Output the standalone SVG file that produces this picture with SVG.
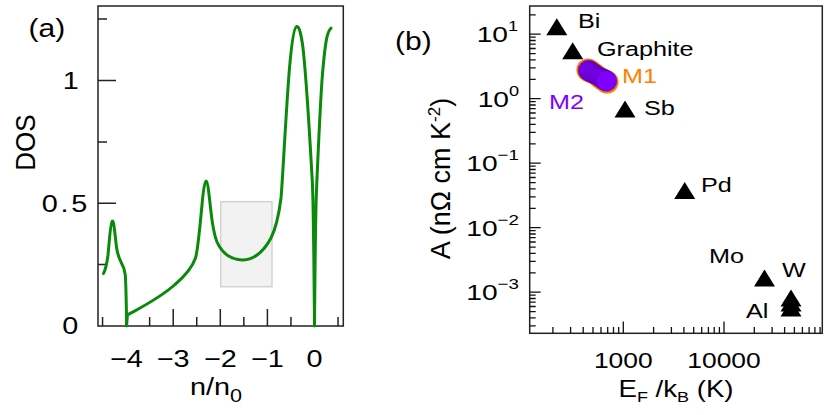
<svg xmlns="http://www.w3.org/2000/svg" xmlns:xlink="http://www.w3.org/1999/xlink" width="830" height="415" viewBox="0 0 830 415">
<style>
.t{font-family:"Liberation Sans",Arial,Helvetica,sans-serif;fill:#000}
.frame{fill:none;stroke:#222;stroke-width:1.5}
.tk{stroke:#222;stroke-width:1.5;fill:none}
.tkb{stroke:#111;stroke-width:1.3;fill:none}
.dos{fill:none;stroke:#0a8a0a;stroke-width:3;stroke-linejoin:round;stroke-linecap:round}
.tri{fill:#000}
.m1{fill:#ff8000}
.m2{fill:#8000ff;stroke:#4c0096;stroke-width:0.6;stroke-opacity:0.8}
</style>
<defs>
<path id="tri" d="M0,0 L10.5,17 L-10.5,17 Z"/>
</defs>
<rect width="830" height="415" fill="#fff"/>

<!-- Panel (a) -->
<g id="panel-a">
<rect id="highlight" x="220.7" y="201.7" width="51.3" height="85" fill="#f2f2f2" stroke="#d2d2d2" stroke-width="1.5"/>
<rect class="frame" x="98" y="6" width="245.3" height="320"/>
<g id="a-ticks">
<path class="tk" d="M126.1,326V309M173.2,326V309M220.3,326V309M267.4,326V309M314.5,326V309M102.55,326V317M149.65,326V317M196.75,326V317M243.85,326V317M290.95,326V317M338.05,326V317"/>
<path class="tk" d="M98,203.25H116M98,80.5H116M98,264.6H107M98,141.9H107M98,19.1H107"/>
</g>
<path id="dos-curve" class="dos" d="M103.5,273.5 C105,271 106.5,266 108,255 C109.5,240 110.5,222 112.3,221 C114,220 115,236 116.5,247 C117.5,255 119,258 121,262 C123,265.5 124.5,268 125.3,275 C126,285 126.4,310 126.6,326 L127.4,315 C140,308 160,298 175,284.5 C185,276 192,268 195.5,258 C198,250 200,225 202,205 C203,193 204.5,181 206,181 C207.5,181 208.5,190 210,203 C211.5,216 212.5,231 217,242 C222,253 231,259.5 242,260 C254,260 264,251 271,238 C276,228 279,214 281,198 C283,175 286,110 289.5,68 C291.5,45 293.5,28 296.5,26.5 C299,25.5 301,33 303,48 C306,75 310,140 312.5,185 C313.5,215 314.2,290 314.5,326 C314.8,290 315.5,215 316.5,190 C318,155 320,110 322,80 C324,55 326,40 327.5,35 C328.5,31.5 330,29 331,28"/>
<g id="a-labels">
<text class="t" font-size="25" transform="translate(28.5,36.5) scale(1.2,1)">(a)</text>
<text class="t" font-size="24" text-anchor="middle" transform="translate(70.7,89.3) scale(1.2,1)">1</text>
<text class="t" font-size="24" text-anchor="middle" textLength="38" lengthAdjust="spacing" transform="translate(64.5,211.8) scale(1.2,1)">0.5</text>
<text class="t" font-size="24" text-anchor="middle" transform="translate(70.3,334) scale(1.2,1)">0</text>
<text class="t" font-size="24" text-anchor="middle" transform="translate(126.4,366.7) scale(1.2,1)">−4</text>
<text class="t" font-size="24" text-anchor="middle" transform="translate(173.2,366.7) scale(1.2,1)">−3</text>
<text class="t" font-size="24" text-anchor="middle" transform="translate(220.3,366.7) scale(1.2,1)">−2</text>
<text class="t" font-size="24" text-anchor="middle" transform="translate(267.4,366.7) scale(1.2,1)">−1</text>
<text class="t" font-size="24" text-anchor="middle" transform="translate(314.5,366.7) scale(1.2,1)">0</text>
<text class="t" font-size="24" text-anchor="middle" transform="translate(216,395) scale(1.2,1)">n/n<tspan font-size="18" dy="6.5">0</tspan></text>
<text class="t" font-size="26" text-anchor="middle" transform="translate(35,142.5) rotate(-90) scale(1,1.05)">DOS</text>
</g>
</g>

<!-- Panel (b) -->
<g id="panel-b">
<rect class="frame" x="529.7" y="6" width="292.6" height="327.3"/>
<g id="b-ticks">
<path class="tkb" d="M529.7,34.2h11M529.7,98.7h11M529.7,163.2h11M529.7,227.7h11M529.7,292.2h11"/>
<path class="tkb" d="M529.7,325.9h6M529.7,317.9h6M529.7,311.6h6M529.7,306.5h6M529.7,302.2h6M529.7,298.5h6M529.7,295.2h6
M529.7,272.8h6M529.7,261.4h6M529.7,253.4h6M529.7,247.1h6M529.7,242h6M529.7,237.7h6M529.7,234h6M529.7,230.7h6
M529.7,208.3h6M529.7,196.9h6M529.7,188.9h6M529.7,182.6h6M529.7,177.5h6M529.7,173.2h6M529.7,169.5h6M529.7,166.2h6
M529.7,143.8h6M529.7,132.4h6M529.7,124.4h6M529.7,118.1h6M529.7,113h6M529.7,108.7h6M529.7,105h6M529.7,101.7h6
M529.7,79.3h6M529.7,67.9h6M529.7,59.9h6M529.7,53.6h6M529.7,48.5h6M529.7,44.2h6M529.7,40.5h6M529.7,37.2h6
M529.7,14.8h6"/>
<path class="tkb" d="M623.3,333.3v-11.7M724,333.3v-11.7"/>
<path class="tkb" d="M552.9,333.3v-6.3M570.6,333.3v-6.3M583.2,333.3v-6.3M593,333.3v-6.3M601,333.3v-6.3M607.7,333.3v-6.3M613.5,333.3v-6.3M618.7,333.3v-6.3
M653.6,333.3v-6.3M671.4,333.3v-6.3M683.9,333.3v-6.3M693.7,333.3v-6.3M701.7,333.3v-6.3M708.4,333.3v-6.3M714.2,333.3v-6.3M719.4,333.3v-6.3
M754.3,333.3v-6.3M772.1,333.3v-6.3M784.6,333.3v-6.3M794.4,333.3v-6.3M802.4,333.3v-6.3M809.1,333.3v-6.3M814.9,333.3v-6.3M820.1,333.3v-6.3"/>
</g>
<g id="b-axis-labels">
<text class="t" font-size="25" transform="translate(395,50) scale(1.2,1)">(b)</text>
<text class="t" font-size="22.5" text-anchor="end" transform="translate(518,42.2) scale(1.25,1)">10<tspan font-size="14.5" dy="-11">1</tspan></text>
<text class="t" font-size="22.5" text-anchor="end" transform="translate(519,106.7) scale(1.25,1)">10<tspan font-size="14.5" dy="-11">0</tspan></text>
<text class="t" font-size="22.5" text-anchor="end" transform="translate(519,171.2) scale(1.25,1)">10<tspan font-size="15" dy="-11">−1</tspan></text>
<text class="t" font-size="22.5" text-anchor="end" transform="translate(519,235.7) scale(1.25,1)">10<tspan font-size="15" dy="-11">−2</tspan></text>
<text class="t" font-size="22.5" text-anchor="end" transform="translate(519,300.2) scale(1.25,1)">10<tspan font-size="15" dy="-11">−3</tspan></text>
<text class="t" font-size="22" text-anchor="middle" transform="translate(623.3,368) scale(1.2,1)">1000</text>
<text class="t" font-size="22" text-anchor="middle" transform="translate(724,368) scale(1.2,1)">10000</text>
<text class="t" font-size="23" text-anchor="middle" transform="translate(676,396.7) scale(1.2,1)">E<tspan font-size="15" dy="5">F</tspan><tspan dy="-5"> /k</tspan><tspan font-size="15" dy="5">B</tspan><tspan dy="-5"> (K)</tspan></text>
<text class="t" font-size="27" text-anchor="middle" transform="translate(450,178.5) rotate(-90)">A (nΩ cm K<tspan font-size="17" dy="-10">-2</tspan><tspan dy="10">)</tspan></text>
</g>
<g id="point-Bi"><use xlink:href="#tri" class="tri" x="556.8" y="18.3"/><text class="t" font-size="21" transform="translate(578,28.3) scale(1.2,1)">Bi</text></g>
<g id="point-Graphite"><use xlink:href="#tri" class="tri" x="572.7" y="42.3"/><text class="t" font-size="21" transform="translate(597,56) scale(1.2,1)">Graphite</text></g>
<g id="point-M">
<g id="m1-series">
<circle class="m1" cx="587.9" cy="69.9" r="11.5"/><circle class="m1" cx="589.1" cy="70.6" r="11.4"/><circle class="m1" cx="590.3" cy="71.3" r="11.2"/><circle class="m1" cx="591.5" cy="72" r="11.1"/><circle class="m1" cx="592.7" cy="72.7" r="11"/><circle class="m1" cx="593.9" cy="73.4" r="10.8"/><circle class="m1" cx="595.1" cy="74.1" r="10.7"/><circle class="m1" cx="596.3" cy="74.8" r="10.6"/><circle class="m1" cx="598.7" cy="77.2" r="10.6"/><circle class="m1" cx="599.9" cy="77.9" r="10.7"/><circle class="m1" cx="601.1" cy="78.6" r="10.8"/><circle class="m1" cx="602.3" cy="79.3" r="11"/><circle class="m1" cx="603.5" cy="80" r="11.1"/><circle class="m1" cx="604.7" cy="80.7" r="11.2"/><circle class="m1" cx="605.9" cy="81.4" r="11.4"/><circle class="m1" cx="607.1" cy="82.1" r="11.5"/>
</g>
<g id="m2-series">
<circle class="m2" cx="588.5" cy="70.5" r="10.3"/><circle class="m2" cx="589.7" cy="71.2" r="10.17"/><circle class="m2" cx="590.9" cy="71.9" r="10.03"/><circle class="m2" cx="592.1" cy="72.6" r="9.9"/><circle class="m2" cx="593.3" cy="73.3" r="9.77"/><circle class="m2" cx="594.5" cy="74" r="9.63"/><circle class="m2" cx="595.7" cy="74.7" r="9.5"/><circle class="m2" cx="596.9" cy="75.4" r="9.37"/><circle class="m2" cx="598.1" cy="76.1" r="9.37"/><circle class="m2" cx="599.3" cy="76.8" r="9.5"/><circle class="m2" cx="600.5" cy="77.5" r="9.63"/><circle class="m2" cx="601.7" cy="78.2" r="9.77"/><circle class="m2" cx="602.9" cy="78.9" r="9.9"/><circle class="m2" cx="604.1" cy="79.6" r="10.03"/><circle class="m2" cx="605.3" cy="80.3" r="10.17"/><circle class="m2" cx="606.5" cy="81" r="10.3"/>
</g>
<text class="t" font-size="21" style="fill:#ff8000" transform="translate(622,83.3) scale(1.2,1)">M1</text>
<text class="t" font-size="21" style="fill:#8000ff" transform="translate(549,108.5) scale(1.2,1)">M2</text>
</g>
<g id="point-Sb"><use xlink:href="#tri" class="tri" x="625" y="100.5"/><text class="t" font-size="21" transform="translate(644,115) scale(1.2,1)">Sb</text></g>
<g id="point-Pd"><use xlink:href="#tri" class="tri" x="684.7" y="182"/><text class="t" font-size="21" transform="translate(701,191.7) scale(1.2,1)">Pd</text></g>
<g id="point-Mo"><use xlink:href="#tri" class="tri" x="764.5" y="269.5"/><text class="t" font-size="21" transform="translate(709,263) scale(1.2,1)">Mo</text></g>
<g id="point-W-Al">
<use xlink:href="#tri" class="tri" x="791" y="289.5"/><use xlink:href="#tri" class="tri" x="791" y="294.5"/><use xlink:href="#tri" class="tri" x="791" y="299.5"/>
<text class="t" font-size="21" transform="translate(782,277) scale(1.2,1)">W</text>
<text class="t" font-size="21" transform="translate(746,318) scale(1.2,1)">Al</text>
</g>
</g>
</svg>
